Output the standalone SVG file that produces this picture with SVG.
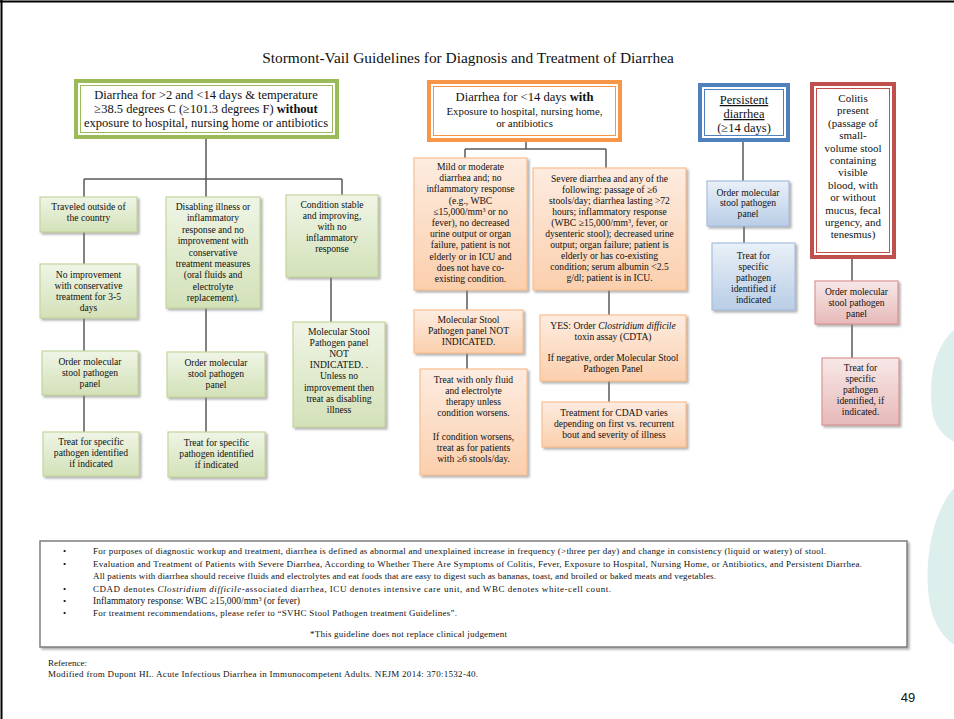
<svg xmlns="http://www.w3.org/2000/svg" width="954" height="719" viewBox="0 0 954 719" font-family="'Liberation Serif', 'DejaVu Serif', serif">
<defs>
<linearGradient id="gG" x1="0" y1="0" x2="0" y2="1"><stop offset="0" stop-color="#eff5e6"/><stop offset="1" stop-color="#d3e1b8"/></linearGradient>
<linearGradient id="gO" x1="0" y1="0" x2="0" y2="1"><stop offset="0" stop-color="#fdece0"/><stop offset="1" stop-color="#fbcfad"/></linearGradient>
<linearGradient id="gB" x1="0" y1="0" x2="0" y2="1"><stop offset="0" stop-color="#e9f0f8"/><stop offset="1" stop-color="#b9cde5"/></linearGradient>
<linearGradient id="gR" x1="0" y1="0" x2="0" y2="1"><stop offset="0" stop-color="#f8e8e8"/><stop offset="1" stop-color="#e6b9b8"/></linearGradient>
<filter id="sh" x="-10%" y="-10%" width="125%" height="125%"><feDropShadow dx="2" dy="2" stdDeviation="1" flood-color="#7f7f7f" flood-opacity="0.6"/></filter>
</defs>
<style>
text{font-family:"Liberation Serif","DejaVu Serif",serif;fill:#111;}
.t{font-size:9.6px;text-anchor:middle;}
.g{fill:url(#gG);stroke:#c3d69b;stroke-width:1.2;filter:url(#sh);}
.o{fill:url(#gO);stroke:#f9bf8f;stroke-width:1.2;filter:url(#sh);}
.b{fill:url(#gB);stroke:#a7bfde;stroke-width:1.2;filter:url(#sh);}
.r{fill:url(#gR);stroke:#d99694;stroke-width:1.2;filter:url(#sh);}
.c{stroke:#595959;stroke-width:1.5;fill:none;}
.n{font-size:9px;}
.rt{font-size:11px;text-anchor:middle;}
</style>
<rect x="0" y="0" width="954" height="719" fill="#ffffff"/>
<line x1="0" y1="1.5" x2="954" y2="1.5" stroke="#000" stroke-width="2"/>
<line x1="1.5" y1="0" x2="1.5" y2="719" stroke="#000" stroke-width="2"/>
<path d="M954,330 C936,345 928,375 932,410 C934,425 942,435 954,442 Z" fill="#dcefed"/>
<path d="M954,488 C934,510 922,560 930,605 C934,625 944,638 954,645 Z" fill="#dcefed"/>

<text x="468" y="63" font-size="15.4" text-anchor="middle">Stormont-Vail Guidelines for Diagnosis and Treatment of Diarrhea</text>

<g id="connectors">
<path class="c" d="M206,139 V179 M84,179 H342 M84,179 V197 M206,179 V197 M342,179 V195"/>
<path class="c" d="M84,232 V264 M84,318 V351 M84,395 V432"/>
<path class="c" d="M206,308 V352 M206,397 V432"/>
<path class="c" d="M331,277 V322"/>
<path class="c" d="M526,142 V149 M465,149 H606 M465,149 V158 M606,149 V168"/>
<path class="c" d="M467,290 V310 M467,353 V369"/>
<path class="c" d="M609,290 V315 M609,381 V402"/>
<path class="c" d="M743,142 V181 M744,226 V243"/>
<path class="c" d="M852,258 V281 M852,324 V358"/>
</g>

<g id="n_green_top">
<rect x="76" y="81" width="261" height="56" fill="#fff" stroke="#9bbb59" stroke-width="4"/>
<rect x="80.5" y="85.5" width="252" height="47" fill="none" stroke="#9bbb59" stroke-width="1"/>
<text x="206" y="99" font-size="12.5" text-anchor="middle">Diarrhea for &gt;2 and &lt;14 days &amp; temperature</text>
<text x="206" y="113" font-size="12.5" text-anchor="middle">≥38.5 degrees C (≥101.3 degrees F) <tspan font-weight="bold">without</tspan></text>
<text x="206" y="127" font-size="12.5" text-anchor="middle">exposure to hospital, nursing home or antibiotics</text>
</g>

<g id="n_traveled">
<rect class="g" x="40" y="197" width="97" height="35"/>
<text class="t" x="88.5" y="210">Traveled outside of</text>
<text class="t" x="88.5" y="221">the country</text>
</g>
<g id="n_noimprove">
<rect class="g" x="40" y="264" width="97" height="54"/>
<text class="t" x="88.5" y="278">No improvement</text>
<text class="t" x="88.5" y="289">with conservative</text>
<text class="t" x="88.5" y="300">treatment for 3-5</text>
<text class="t" x="88.5" y="311">days</text>
</g>
<g id="n_order1">
<rect class="g" x="42" y="351" width="96" height="44"/>
<text class="t" x="90" y="365">Order molecular</text>
<text class="t" x="90" y="376">stool pathogen</text>
<text class="t" x="90" y="387">panel</text>
</g>
<g id="n_treat1">
<rect class="g" x="43" y="432" width="96" height="44"/>
<text class="t" x="91" y="445">Treat for specific</text>
<text class="t" x="91" y="456">pathogen identified</text>
<text class="t" x="91" y="467">if indicated</text>
</g>

<g id="n_disabling">
<rect class="g" x="166" y="197" width="94" height="111"/>
<text class="t" x="213" y="210">Disabling illness or</text>
<text class="t" x="213" y="221.4">inflammatory</text>
<text class="t" x="213" y="232.8">response and no</text>
<text class="t" x="213" y="244.2">improvement with</text>
<text class="t" x="213" y="255.6">conservative</text>
<text class="t" x="213" y="267">treatment measures</text>
<text class="t" x="213" y="278.4">(oral fluids and</text>
<text class="t" x="213" y="289.8">electrolyte</text>
<text class="t" x="213" y="301.2">replacement).</text>
</g>
<g id="n_order2">
<rect class="g" x="167" y="352" width="98" height="45"/>
<text class="t" x="216" y="366">Order molecular</text>
<text class="t" x="216" y="377">stool pathogen</text>
<text class="t" x="216" y="388">panel</text>
</g>
<g id="n_treat2">
<rect class="g" x="168" y="432" width="97" height="45"/>
<text class="t" x="216.5" y="446">Treat for specific</text>
<text class="t" x="216.5" y="457">pathogen identified</text>
<text class="t" x="216.5" y="468">if indicated</text>
</g>

<g id="n_stable">
<rect class="g" x="286" y="195" width="92" height="82"/>
<text class="t" x="332" y="208">Condition stable</text>
<text class="t" x="332" y="219">and improving,</text>
<text class="t" x="332" y="230">with no</text>
<text class="t" x="332" y="241">inflammatory</text>
<text class="t" x="332" y="252">response</text>
</g>
<g id="n_notind1">
<rect class="g" x="293" y="322" width="92" height="105"/>
<text class="t" x="339" y="335">Molecular Stool</text>
<text class="t" x="339" y="346.1">Pathogen panel</text>
<text class="t" x="339" y="357.2">NOT</text>
<text class="t" x="339" y="368.3">INDICATED.  .</text>
<text class="t" x="339" y="379.4">Unless no</text>
<text class="t" x="339" y="390.5">improvement then</text>
<text class="t" x="339" y="401.6">treat as disabling</text>
<text class="t" x="339" y="412.7">illness</text>
</g>

<g id="n_orange_top">
<rect x="429" y="82" width="191" height="58" fill="#fff" stroke="#f79646" stroke-width="4"/>
<rect x="433.5" y="86.5" width="182" height="49" fill="none" stroke="#f79646" stroke-width="1"/>
<text x="524.5" y="101" font-size="12.6" text-anchor="middle">Diarrhea for &lt;14 days <tspan font-weight="bold">with</tspan></text>
<text x="524.5" y="115" font-size="10.8" text-anchor="middle">Exposure to hospital, nursing home,</text>
<text x="524.5" y="127" font-size="10.8" text-anchor="middle">or antibiotics</text>
</g>

<g id="n_mild">
<rect class="o" x="414" y="158" width="113" height="132"/>
<text class="t" x="470.5" y="170">Mild or moderate</text>
<text class="t" x="470.5" y="181.2">diarrhea and; no</text>
<text class="t" x="470.5" y="192.4">inflammatory response</text>
<text class="t" x="470.5" y="203.6">(e.g., WBC</text>
<text class="t" x="470.5" y="214.8">≤15,000/mm<tspan font-size="6" dy="-3">3</tspan><tspan dy="3"> or no</tspan></text>
<text class="t" x="470.5" y="226">fever), no decreased</text>
<text class="t" x="470.5" y="237.2">urine output or organ</text>
<text class="t" x="470.5" y="248.4">failure, patient is not</text>
<text class="t" x="470.5" y="259.6">elderly or in ICU and</text>
<text class="t" x="470.5" y="270.8">does not have co-</text>
<text class="t" x="470.5" y="282">existing condition.</text>
</g>
<g id="n_severe">
<rect class="o" x="533" y="168" width="153" height="122"/>
<text class="t" x="609.5" y="182">Severe diarrhea and any of the</text>
<text class="t" x="609.5" y="193">following: passage of  ≥6</text>
<text class="t" x="609.5" y="204">stools/day; diarrhea lasting &gt;72</text>
<text class="t" x="609.5" y="215">hours; inflammatory response</text>
<text class="t" x="609.5" y="226">(WBC ≥15,000/mm<tspan font-size="6" dy="-3">3</tspan><tspan dy="3">, fever, or</tspan></text>
<text class="t" x="609.5" y="237">dysenteric stool); decreased urine</text>
<text class="t" x="609.5" y="248">output; organ failure; patient is</text>
<text class="t" x="609.5" y="259">elderly or has co-existing</text>
<text class="t" x="609.5" y="270">condition; serum albumin &lt;2.5</text>
<text class="t" x="609.5" y="281">g/dl; patient is in ICU.</text>
</g>
<g id="n_notind2">
<rect class="o" x="414" y="310" width="109" height="43"/>
<text class="t" x="468.5" y="323">Molecular Stool</text>
<text class="t" x="468.5" y="334">Pathogen panel NOT</text>
<text class="t" x="468.5" y="345">INDICATED.</text>
</g>
<g id="n_fluid">
<rect class="o" x="420" y="369" width="107" height="106"/>
<text class="t" x="473.5" y="383">Treat with only fluid</text>
<text class="t" x="473.5" y="394">and electrolyte</text>
<text class="t" x="473.5" y="405">therapy unless</text>
<text class="t" x="473.5" y="416">condition worsens.</text>
<text class="t" x="473.5" y="440">If condition worsens,</text>
<text class="t" x="473.5" y="451">treat as for patients</text>
<text class="t" x="473.5" y="462">with ≥6 stools/day.</text>
</g>
<g id="n_cdta">
<rect class="o" x="540" y="315" width="146" height="66"/>
<text class="t" x="613" y="329">YES: Order <tspan font-style="italic">Clostridium difficile</tspan></text>
<text class="t" x="613" y="340">toxin assay (CDTA)</text>
<text class="t" x="613" y="361">If negative, order Molecular Stool</text>
<text class="t" x="613" y="372">Pathogen Panel</text>
</g>
<g id="n_cdad">
<rect class="o" x="542" y="402" width="144" height="45"/>
<text class="t" x="614" y="416">Treatment for CDAD varies</text>
<text class="t" x="614" y="427">depending on first vs. recurrent</text>
<text class="t" x="614" y="438">bout and severity of illness</text>
</g>

<g id="n_blue_top">
<rect x="700" y="85" width="88" height="55" fill="#fff" stroke="#4f81bd" stroke-width="4"/>
<rect x="704.5" y="89.5" width="79" height="46" fill="none" stroke="#4f81bd" stroke-width="1"/>
<text x="744" y="104" font-size="12.5" text-anchor="middle" text-decoration="underline">Persistent</text>
<text x="744" y="118" font-size="12.5" text-anchor="middle" text-decoration="underline">diarrhea</text>
<text x="744" y="132" font-size="12.5" text-anchor="middle">(≥14 days)</text>
</g>
<g id="n_order3">
<rect class="b" x="707" y="181" width="82" height="45"/>
<text class="t" x="748" y="196">Order molecular</text>
<text class="t" x="748" y="206">stool pathogen</text>
<text class="t" x="748" y="217">panel</text>
</g>
<g id="n_treat3">
<rect class="b" x="712" y="243" width="83" height="67"/>
<text class="t" x="753.5" y="259">Treat for</text>
<text class="t" x="753.5" y="270">specific</text>
<text class="t" x="753.5" y="281">pathogen</text>
<text class="t" x="753.5" y="292">identified if</text>
<text class="t" x="753.5" y="303">indicated</text>
</g>

<g id="n_red_top">
<rect x="812" y="84" width="82" height="173" fill="#fff" stroke="#c0504d" stroke-width="4"/>
<rect x="816.5" y="88.5" width="73" height="164" fill="none" stroke="#c0504d" stroke-width="1"/>
<text class="rt" x="853" y="102">Colitis</text>
<text class="rt" x="853" y="114.4">present</text>
<text class="rt" x="853" y="126.8">(passage of</text>
<text class="rt" x="853" y="139.2">small-</text>
<text class="rt" x="853" y="151.6">volume stool</text>
<text class="rt" x="853" y="164">containing</text>
<text class="rt" x="853" y="176.4">visible</text>
<text class="rt" x="853" y="188.8">blood, with</text>
<text class="rt" x="853" y="201.2">or without</text>
<text class="rt" x="853" y="213.6">mucus, fecal</text>
<text class="rt" x="853" y="226">urgency, and</text>
<text class="rt" x="853" y="238.4">tenesmus)</text>
</g>
<g id="n_order4">
<rect class="r" x="815" y="281" width="83" height="43"/>
<text class="t" x="856.5" y="295">Order molecular</text>
<text class="t" x="856.5" y="306">stool pathogen</text>
<text class="t" x="856.5" y="317">panel</text>
</g>
<g id="n_treat4">
<rect class="r" x="822" y="358" width="77" height="67"/>
<text class="t" x="860.5" y="371">Treat for</text>
<text class="t" x="860.5" y="382">specific</text>
<text class="t" x="860.5" y="393">pathogen</text>
<text class="t" x="860.5" y="404">identified, if</text>
<text class="t" x="860.5" y="415">indicated.</text>
</g>

<g id="notes">
<rect x="40" y="541" width="867" height="106" fill="#fff" stroke="#7f7f7f" stroke-width="1.5" filter="url(#sh)"/>
<g class="n">
<text x="63" y="554">•</text><text x="93" y="554" textLength="733">For purposes of diagnostic workup and treatment,  diarrhea is defined as abnormal and unexplained increase in frequency (&gt;three per day) and change in consistency (liquid or watery) of stool.</text>
<text x="63" y="567">•</text><text x="93" y="567" textLength="769">Evaluation and Treatment of Patients with Severe Diarrhea, According to Whether There Are Symptoms of Colitis, Fever, Exposure to Hospital, Nursing Home, or Antibiotics, and Persistent Diarrhea.</text>
<text x="93" y="579" textLength="623">All patients with diarrhea should receive fluids and electrolytes and eat foods that are easy to digest such as bananas, toast, and broiled or baked meats and vegetables.</text>
<text x="63" y="592">•</text><text x="93" y="592" textLength="518">CDAD denotes <tspan font-style="italic">Clostridium difficile</tspan>-associated diarrhea, ICU denotes intensive care unit, and WBC denotes white-cell count.</text>
<text x="63" y="604">•</text><text x="93" y="604" font-size="9.5">Inflammatory response:  WBC ≥15,000/mm<tspan font-size="6" dy="-3">3</tspan><tspan dy="3"> (or fever)</tspan></text>
<text x="63" y="616">•</text><text x="93" y="616" textLength="364">For treatment recommendations, please refer to “SVHC Stool Pathogen treatment Guidelines”.</text>
<text x="310" y="637" textLength="197">*This guideline does not replace clinical judgement</text>
</g>
</g>

<text x="48" y="666" font-size="9">Reference:</text>
<text x="48" y="677" font-size="9" textLength="430">Modified from Dupont HL. Acute Infectious Diarrhea in Immunocompetent Adults.  NEJM 2014: 370:1532-40.</text>
<text x="908" y="702" font-size="13" text-anchor="middle" style="font-family:'Liberation Sans',Arial,sans-serif">49</text>
</svg>
